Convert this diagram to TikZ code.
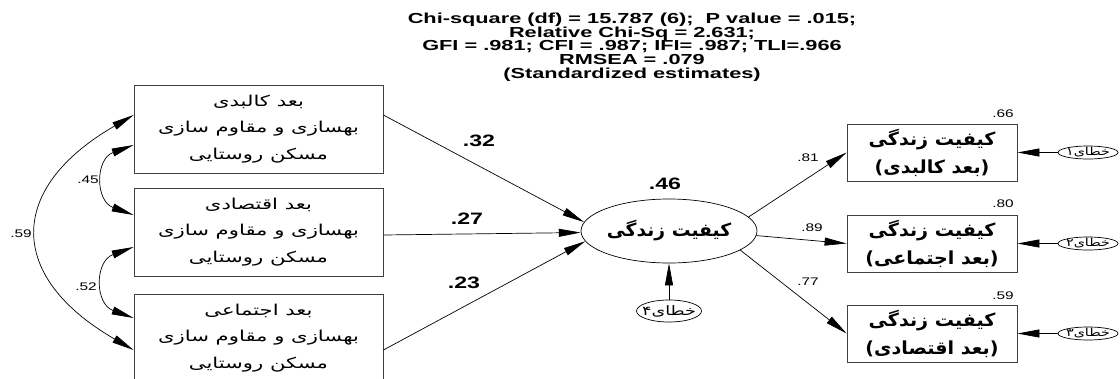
\documentclass[tikz,border=0pt]{standalone}
\usepackage{fontspec}
\usepackage{graphicx}
\setmainfont{Liberation Sans}[FakeStretch=1.4]
\newfontfamily\ttl{Liberation Sans}[FakeStretch=1.5]
\newfontfamily\fa[Script=Arabic]{DejaVu Sans}
\TeXXeTstate=1
\usetikzlibrary{arrows.meta,positioning,shapes.geometric}
\newcommand{\rlx}{1}
\newcommand{\rl}[1]{\scalebox{\rlx}[1]{\beginR#1\endR}}

\begin{document}
\begin{tikzpicture}[%
    x=1pt, y=-1pt,
    >={Triangle[length=22pt,width=8pt]},
    on grid,
    every node/.style={inner sep=0pt},
    obs/.style={draw=black!75, line width=0.8pt, minimum width=249pt, minimum height=88pt,
        align=center, font={\fa\fontsize{15}{26.5}\selectfont\renewcommand{\rlx}{1.41}}},
    ind/.style={draw=black!75, line width=0.8pt, minimum width=170pt, minimum height=57pt,
        align=center, font={\fa\bfseries\fontsize{18}{28}\selectfont\renewcommand{\rlx}{1.06}}},
    lat/.style={ellipse, draw, line width=0.7pt, minimum width=166pt, minimum height=64pt,
        font={\fa\bfseries\fontsize{18}{20}\selectfont\renewcommand{\rlx}{1.04}}},
    err/.style={ellipse, draw, line width=0.7pt, minimum width=60pt, minimum height=13pt,
        inner xsep=-4pt, inner ysep=-4pt,
        font={\fa\fontsize{11}{12}\selectfont\renewcommand{\rlx}{1.3}}},
    coef/.style={font=\bfseries\fontsize{16.5}{18}\selectfont},
    est/.style={font=\fontsize{11}{13}\selectfont},
    link/.style={->, line width=0.7pt},
    corr/.style={<->, line width=0.7pt}
    ]

    \useasboundingbox (0,0) rectangle (1120,378);

    % fit indices
    \node[anchor=north, align=center, font=\ttl\bfseries\fontsize{14.5}{13.6}\selectfont] (stats) at (632,13)
        {Chi-square (df) = 15.787 (6);\ \ P value = .015;\\
         Relative Chi-Sq = 2.631;\\
         GFI = .981; CFI = .987; IFI= .987; TLI=.966\\
         RMSEA = .079\\
         (Standardized estimates)};

    % exogenous boxes
    \node[obs] (b1) at (258.5,129) {\rl{بعد کالبدی}\\\rl{بهسازی و مقاوم سازی}\\\rl{مسکن روستایی}};
    \node[obs] (b2) [below=103pt of b1] {\rl{بعد اقتصادی}\\\rl{بهسازی و مقاوم سازی}\\\rl{مسکن روستایی}};
    \node[obs] (b3) [below=106pt of b2] {\rl{بعد اجتماعی}\\\rl{بهسازی و مقاوم سازی}\\\rl{مسکن روستایی}};

    % latent variable
    \node[lat] (q) at (669,231) {\rl{کیفیت زندگی}};
    \node[err, minimum width=65pt, minimum height=22pt, inner xsep=-6pt, inner ysep=-2pt,
        font={\fa\fontsize{13}{14}\selectfont\renewcommand{\rlx}{1.35}}] (e4) [below=80pt of q] {\rl{خطای۴}};

    % indicators
    \node[ind] (r1) at (932,152.5) {\rl{کیفیت زندگی}\\\rl{(بعد کالبدی)}};
    \node[ind] (r2) [below=91pt of r1] {\rl{کیفیت زندگی}\\\rl{(بعد اجتماعی)}};
    \node[ind] (r3) [below=90pt of r2] {\rl{کیفیت زندگی}\\\rl{(بعد اقتصادی)}};

    \node[err] (n1) [right=156pt of r1] {\rl{خطای۱}};
    \node[err] (n2) [right=156pt of r2] {\rl{خطای۲}};
    \node[err] (n3) [right=156pt of r3] {\rl{خطای۳}};

    % paths
    \draw[link] ([yshift=14pt]b1.east) -- (q.174);
    \draw[link] ([yshift=-3pt]b2.east) -- (q.181);
    \draw[link] ([yshift=-12pt]b3.east) -- (q.187);
    \draw[link] (q.10) -- (r1.west);
    \draw[link] (q.-3) -- (r2.west);
    \draw[link] (q.-15) -- (r3.west);
    \draw[link] (e4) -- (q);
    \draw[link] (n1.west) -- (r1.east);
    \draw[link] (n2.west) -- (r2.east);
    \draw[link] (n3.west) -- (r3.east);

    % correlations
    \draw[corr] ([yshift=-16pt]b1.west) to[out=200,in=160,looseness=1.5] ([yshift=17pt]b2.west);
    \draw[corr] ([yshift=-15pt]b2.west) to[out=200,in=160,looseness=1.5] ([yshift=20pt]b3.west);
    \draw[corr] ([yshift=14pt]b1.west) to[out=210,in=150,looseness=1.6] ([yshift=-12pt]b3.west);

    % estimates
    \node[coef] (c32) at (479,141) {.32};
    \node[coef] (c27) at (467,219) {.27};
    \node[coef] (c23) at (464,283) {.23};
    \node[coef] (c46) at (665,184) {.46};
    \node[est] (l81) at (808,158) {.81};
    \node[est] (l89) at (812,228) {.89};
    \node[est] (l77) at (808,282) {.77};
    \node[est] (s66) at (1003,114) {.66};
    \node[est] (s80) at (1003,204) {.80};
    \node[est] (s59) at (1003,296) {.59};
    \node[est, anchor=east] (k45) at (99,180) {.45};
    \node[est, anchor=east] (k52) at (97,287) {.52};
    \node[est, anchor=east] (k59) at (32,234) {.59};

\end{tikzpicture}
\end{document}
